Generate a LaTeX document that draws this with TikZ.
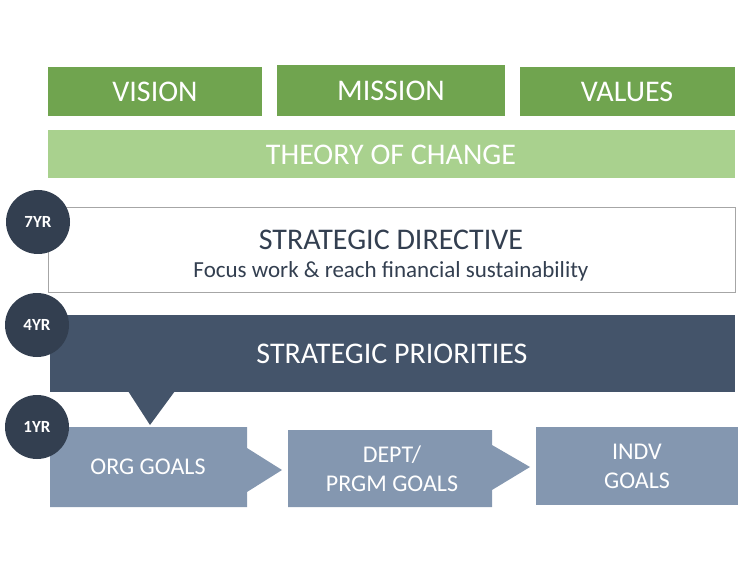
\documentclass[tikz,border=0pt]{standalone}
\usepackage{fontspec}
\setmainfont{Carlito}
\definecolor{gdark}{HTML}{70A44F}
\definecolor{glight}{HTML}{A9D18E}
\definecolor{navy}{HTML}{333F50}
\definecolor{slate}{HTML}{44546A}
\definecolor{steel}{HTML}{8497B0}
\begin{document}
\begin{tikzpicture}[x=1pt,y=-1pt,
  big/.style={font=\fontsize{30}{32}\selectfont},
  yr/.style={circle,fill=navy,text=white,minimum size=64pt,inner sep=0pt,font=\bfseries\fontsize{17}{19}\selectfont},
  goal/.style={text=white,font=\fontsize{24}{29}\selectfont,align=center}]
\useasboundingbox (0,0) rectangle (749,585);
\fill[gdark] (48,67) rectangle (262,116);
\node[big,text=white] (vision) at (155,92) {VISION};
\fill[gdark] (277,65) rectangle (505,116);
\node[big,text=white] (mission) at (391,91) {MISSION};
\fill[gdark] (520,67) rectangle (735,116);
\node[big,text=white] (values) at (627,92) {VALUES};
\fill[glight] (48,130) rectangle (735,178);
\node[big,text=white] (toc) at (391,155) {THEORY OF CHANGE};
\draw[gray!70,line width=1pt,fill=white] (48,208) rectangle (735,292);
\node[big,text=navy] (sd) at (391,240) {STRATEGIC DIRECTIVE};
\node[text=navy,font=\fontsize{23}{26}\selectfont] (sdsub) at (391,271) {Focus work \& reach financial sustainability};
\fill[slate] (50,315) rectangle (735,392);
\fill[slate] (128,391) -- (175,391) -- (150,425) -- cycle;
\node[big,text=white] (sp) at (392,354) {STRATEGIC PRIORITIES};
\fill[steel] (50,427) -- (247,427) -- (247,448) -- (282,470) -- (247,492) -- (247,507) -- (50,507) -- cycle;
\node[goal] (org) at (148,467) {ORG GOALS};
\fill[steel] (288,430) -- (492,430) -- (492,445) -- (530,467) -- (492,490) -- (492,507) -- (288,507) -- cycle;
\node[goal] (dept) at (392,469) {DEPT/\\PRGM GOALS};
\fill[steel] (536,427) rectangle (738,505);
\node[goal] (indv) at (637,466) {INDV\\GOALS};
\node[yr] (y7) at (38,222) {7YR};
\node[yr] (y4) at (37,325) {4YR};
\node[yr] (y1) at (37,427) {1YR};
\end{tikzpicture}
\end{document}
